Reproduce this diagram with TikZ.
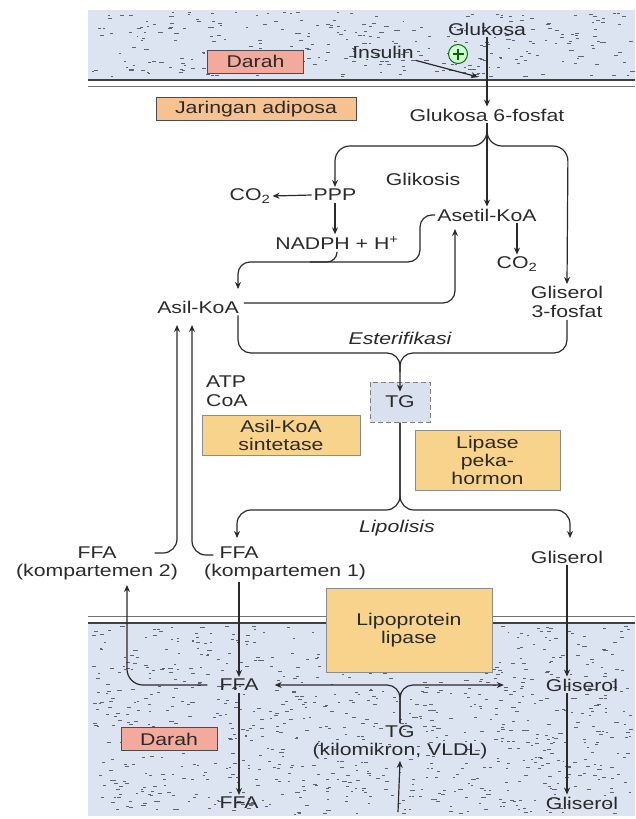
\documentclass[tikz,border=0pt]{standalone}
\usepackage{fontspec}
\setmainfont{Liberation Sans}[FakeStretch=1.25]
\usetikzlibrary{arrows.meta,calc}
\definecolor{bandc}{HTML}{DCE4F1}
\definecolor{dotc}{HTML}{5E6470}
\definecolor{lnc}{HTML}{2A2A2A}
\definecolor{darahc}{HTML}{F3A99B}
\definecolor{adipc}{HTML}{F7C290}
\definecolor{enzc}{HTML}{F8D38B}
\definecolor{tgc}{HTML}{D9E1EE}
\begin{document}
\begin{tikzpicture}[x=1pt,y=-1pt,
  every node/.style={font=\fontsize{17}{19}\selectfont, inner sep=2pt, text=lnc},
  arr/.style={draw=lnc, line width=1.2pt, -{Stealth[length=7pt,width=6pt]}},
  lnk/.style={draw=lnc, line width=1.2pt},
  darah/.style={draw=black!70, line width=1pt, fill=darahc, minimum width=96pt, minimum height=23pt, inner sep=0pt},
  adip/.style={draw=black!70, line width=1pt, fill=adipc, minimum width=200pt, minimum height=23pt, inner sep=0pt},
  enz/.style={draw=black!45, line width=0.8pt, fill=enzc, align=center, inner sep=0pt, font=\fontsize{17}{18}\selectfont},
  tgbox/.style={draw=black!50, dash pattern=on 5pt off 3pt, line width=1pt, fill=tgc, minimum width=60pt, minimum height=40pt, inner sep=0pt}
]
\useasboundingbox (0,0) rectangle (635,819);
% blood bands
\fill[bandc] (88,10) rectangle (635,80);
\fill[bandc] (88,623) rectangle (635,816);
\pgfmathsetseed{4711}
\foreach \i in {1,...,330}{
  \pgfmathsetmacro{\xx}{90+541*rnd}
  \pgfmathsetmacro{\yy}{12+65*rnd}
  \pgfmathsetmacro{\ll}{1.8+2.6*rnd}
  \draw[dotc, line width=0.8pt] (\xx,\yy) -- ++(\ll,0);
}
\foreach \i in {1,...,900}{
  \pgfmathsetmacro{\xx}{90+541*rnd}
  \pgfmathsetmacro{\yy}{626+188*rnd}
  \pgfmathsetmacro{\ll}{1.8+2.6*rnd}
  \draw[dotc, line width=0.8pt] (\xx,\yy) -- ++(\ll,0);
}
\draw[black!75, line width=1.3pt] (88,80) -- (635,80);
\draw[black!55, line width=1pt] (88,86) -- (635,86);
\draw[black!55, line width=1pt] (88,616) -- (635,616);
\draw[black!75, line width=1.2pt] (88,623) -- (635,623);

% nodes
\node (glu) at (487,29) {Glukosa};
\node (ins) at (383,52) {Insulin};
\node[circle, draw=green!45!black, fill=green!18, minimum size=19pt, inner sep=0pt, line width=1pt] (plus) at (458,54) {};
\draw[green!40!black, line width=1.2pt] ($(plus.center)+(-5.5,0)$) -- ($(plus.center)+(5.5,0)$)
  ($(plus.center)+(0,-5.5)$) -- ($(plus.center)+(0,5.5)$);
\coordinate (insT) at (478,77);
\node[darah] (darah1) at (255.5,61.5) {Darah};
\node[adip] (adip) at (256,109) {Jaringan adiposa};
\node (g6p) at (487,115) {Glukosa 6-fosfat};
\node (glik) at (423,179) {Glikosis};
\node (ppp) at (335,195) {PPP};
\node (co2a) at (250,196) {CO\textsubscript{2}};
\node (nadph) at (337,243) {NADPH + H\textsuperscript{+}};
\node (asetil) at (487,215) {Asetil-KoA};
\node (co2b) at (517,264) {CO\textsubscript{2}};
\node[align=center] (gli3) at (567,302) {Gliserol\\3-fosfat};
\node (asil) at (198,307) {Asil-KoA};
\node (ester) at (400,338) {\itshape Esterifikasi};
\node[anchor=west, align=left] (atp) at (204,391) {ATP\\CoA};
\node[enz, minimum width=158pt, minimum height=40pt] (aks) at (281,435) {Asil-KoA\\sintetase};
\node[tgbox] (tg) at (400,402) {TG};
\node[enz, minimum width=145pt, minimum height=60pt] (lph) at (487.5,460) {Lipase\\peka-\\hormon};
\node (lipol) at (397,528) {\itshape Lipolisis};
\node (ffa2) at (97,553) {FFA};
\node (k2) at (97,572) {(kompartemen 2)};
\node (ffa1) at (239,553) {FFA};
\node[anchor=west] (k1) at (202,572) {(kompartemen 1)};
\node (gl1) at (567,557) {Gliserol};
\node[enz, minimum width=166pt, minimum height=84pt] (lpl) at (409,630) {Lipoprotein\\lipase};
\node (ffab) at (239,685) {FFA};
\node (glb) at (582,685) {Gliserol};
\node[align=center, font=\fontsize{17}{18}\selectfont] (tgb) at (400,742) {TG\\(kilomikron, VLDL)};
\node[darah] (darah2) at (169,739) {Darah};
\node (ffac) at (239,803) {FFA};
\node (glc) at (582,803) {Gliserol};
\coordinate (bot) at (398,812);
\coordinate (asilIn) at (238,289);
\coordinate (asetilIn) at (455,229);
\coordinate (asilB1) at (177,325);
\coordinate (asilB2) at (192,325);
\coordinate (k2In) at (127,585);
\coordinate (glIn) at (570,538);

% connectors
\draw[arr] (glu.south) -- (g6p.north);
\draw[arr] (ins.south east) -- (insT);
\draw[arr, rounded corners=15pt] (g6p.south) -- (487,146) -- (335,146) -- (ppp.north);
\draw[arr, rounded corners=15pt] (g6p.south) -- (487,146) -- (568,146) -- (gli3.north);
\draw[arr] (g6p.south) -- (asetil.north);
\draw[arr] (ppp.west) -- (co2a.east);
\draw[arr] (ppp.south) -- (ppp.south |- nadph.north);
\draw[arr] (asetil.south -| co2b.north) -- (co2b.north);
\draw[arr, rounded corners=12pt] (asetil.west) -- (420,215) -- (420,262) -- (238,262) -- (asilIn);
\draw[lnk, rounded corners=10pt] (nadph.south) -- (337,262) -- (310,262);
\draw[arr, rounded corners=12pt] ($(asil.east)+(3,-4)$) -- (455,303) -- (asetilIn);
\draw[arr, rounded corners=13pt] ($(asil.south east)+(-3,0)$) -- (238,353) -- (400,353) -- ($(tg.north)+(0,10)$);
\draw[lnk, rounded corners=13pt] (gli3.south) -- (567,353) -- (400,353) -- (400,372);
\draw[arr, rounded corners=14pt] (tg.south) -- (400,510) -- (237,510) -- (237,538);
\draw[arr, rounded corners=14pt] (tg.south) -- (400,510) -- (570,510) -- (glIn);
\draw[arr, rounded corners=14pt] ($(ffa2.east)+(36,0)$) -- (177,553) -- (asilB1);
\draw[arr, rounded corners=14pt] ($(ffa1.west)+(-4,2)$) -- (192,555) -- (asilB2);
\draw[arr, rounded corners=16pt] ($(ffab.west)+(-10,0)$) -- (127,685) -- (k2In);
\draw[arr] (ffa1.south |- k1.south) -- (ffab.north);
\draw[arr] (gl1.south) -- (gl1.south |- glb.north);
\draw[arr, rounded corners=13pt] (tgb.north) -- (400,685) -- ($(ffab.east)+(14,0)$);
\draw[arr, rounded corners=13pt] (tgb.north) -- (400,685) -- ($(glb.west)+(-40,0)$);
\draw[arr] (ffab.south) -- (ffac.north);
\draw[arr] (gl1.south |- glb.south) -- (gl1.south |- glc.north);
\draw[arr] (bot) -- (tgb.south);
\end{tikzpicture}
\end{document}
